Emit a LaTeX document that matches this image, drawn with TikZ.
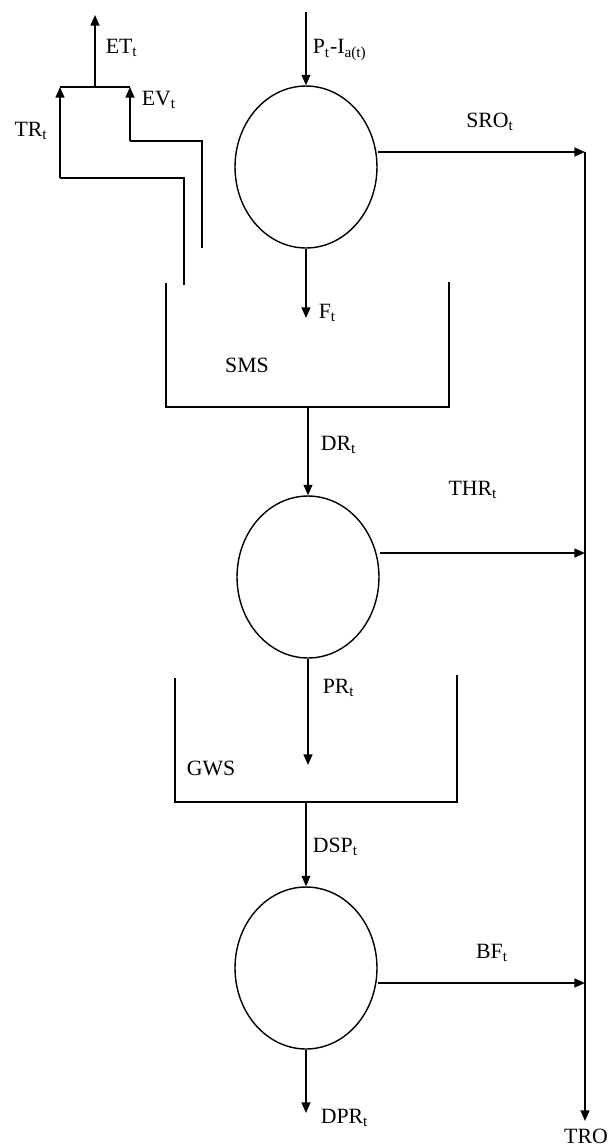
\documentclass[tikz,border=0pt]{standalone}
\usepackage{fontspec}
\setmainfont{Liberation Serif}
\usetikzlibrary{arrows.meta,shapes.geometric}
\begin{document}
\begin{tikzpicture}[x=0.02cm, y=-0.02cm, line width=0.95pt,
  font=\fontsize{12.4}{14}\selectfont,
  lab/.style={inner sep=0pt},
  store/.style={draw, ellipse, line width=0.8pt, minimum width=2.84cm, minimum height=3.24cm, inner sep=0pt},
  flow/.style={-{Triangle[length=6pt,width=5pt]}},
  wall/.style={line width=0.95pt}]
  \useasboundingbox (0,0) rectangle (610,1147);
  % three stores, one above the other (x, y in pixels of the page)
  \node[store] (c1) at (306,167) {};
  \node[store] (c2) at (308,577) {};
  \node[store] (c3) at (306,968) {};
  % ends of the flows
  \coordinate (pin) at (306,12);
  \coordinate (fout) at (306,318);
  \coordinate (etop) at (95,15); \coordinate (ejoin) at (95,87);
  \coordinate (trtop) at (60,87); \coordinate (trbot) at (60,178);
  \coordinate (evtop) at (130,87); \coordinate (evbot) at (130,141);
  \coordinate (p1) at (202,141); \coordinate (p1end) at (202,248);
  \coordinate (p2) at (184,178); \coordinate (p2end) at (184,285);
  \coordinate (t1a) at (166,283); \coordinate (t1b) at (166,407);
  \coordinate (t1c) at (449,407); \coordinate (t1d) at (449,282);
  \coordinate (t1out) at (308,407);
  \coordinate (t2a) at (175,678); \coordinate (t2b) at (175,802);
  \coordinate (t2c) at (457,802); \coordinate (t2d) at (457,675);
  \coordinate (t2out) at (306,802); \coordinate (prin) at (308,765);
  \coordinate (dprend) at (306,1113);
  \coordinate (sro) at (585,152); \coordinate (thr) at (585,553);
  \coordinate (bf) at (585,983); \coordinate (tro) at (585,1121);
  % tanks
  \draw[wall] (t1a) -- (t1b) -- (t1c) -- (t1d);
  \draw[wall] (t2a) -- (t2b) -- (t2c) -- (t2d);
  % transpiration and evaporation pipes
  \draw[wall] (p1end) -- (p1) -- (evbot);
  \draw[wall] (p2end) -- (p2) -- (trbot);
  \draw[flow] (evbot) -- (evtop);
  \draw[flow] (trbot) -- (trtop);
  \draw[wall] (trtop) -- (evtop);
  \draw[flow] (ejoin) -- (etop);
  % vertical flows
  \draw[flow] (pin) -- (c1.north);
  \draw[flow] (c1.south) -- (fout);
  \draw[flow] (t1out) -- (c2.north);
  \draw[flow] (c2.south) -- (prin);
  \draw[flow] (t2out) -- (c3.north);
  \draw[flow] (c3.south) -- (dprend);
  % runoff to the right
  \draw[flow] (c1.east |- sro) -- (sro);
  \draw[flow] (c2.east |- thr) -- (thr);
  \draw[flow] (c3.east |- bf) -- (bf);
  \draw[flow] (sro) -- (tro);
  % labels
  \node[lab, anchor=west] (lp) at (312,50) {P\textsubscript{t}-I\textsubscript{a(t)}};
  \node[lab, anchor=west] (let) at (105,48) {ET\textsubscript{t}};
  \node[lab, anchor=west] (lev) at (141,100) {EV\textsubscript{t}};
  \node[lab] (ltr) at (31,131) {TR\textsubscript{t}};
  \node[lab] (lsro) at (490,122) {SRO\textsubscript{t}};
  \node[lab, anchor=west] (lf) at (318,313) {F\textsubscript{t}};
  \node[lab] (lsms) at (247,365) {SMS};
  \node[lab, anchor=west] (ldr) at (320,445) {DR\textsubscript{t}};
  \node[lab] (lthr) at (473,490) {THR\textsubscript{t}};
  \node[lab, anchor=west] (lpr) at (322,688) {PR\textsubscript{t}};
  \node[lab] (lgws) at (211,768) {GWS};
  \node[lab, anchor=west] (ldsp) at (312,847) {DSP\textsubscript{t}};
  \node[lab] (lbf) at (492,953) {BF\textsubscript{t}};
  \node[lab, anchor=west] (ldpr) at (320,1118) {DPR\textsubscript{t}};
  \node[lab, anchor=north] (ltro) at (586,1128) {TRO};
\end{tikzpicture}
\end{document}
